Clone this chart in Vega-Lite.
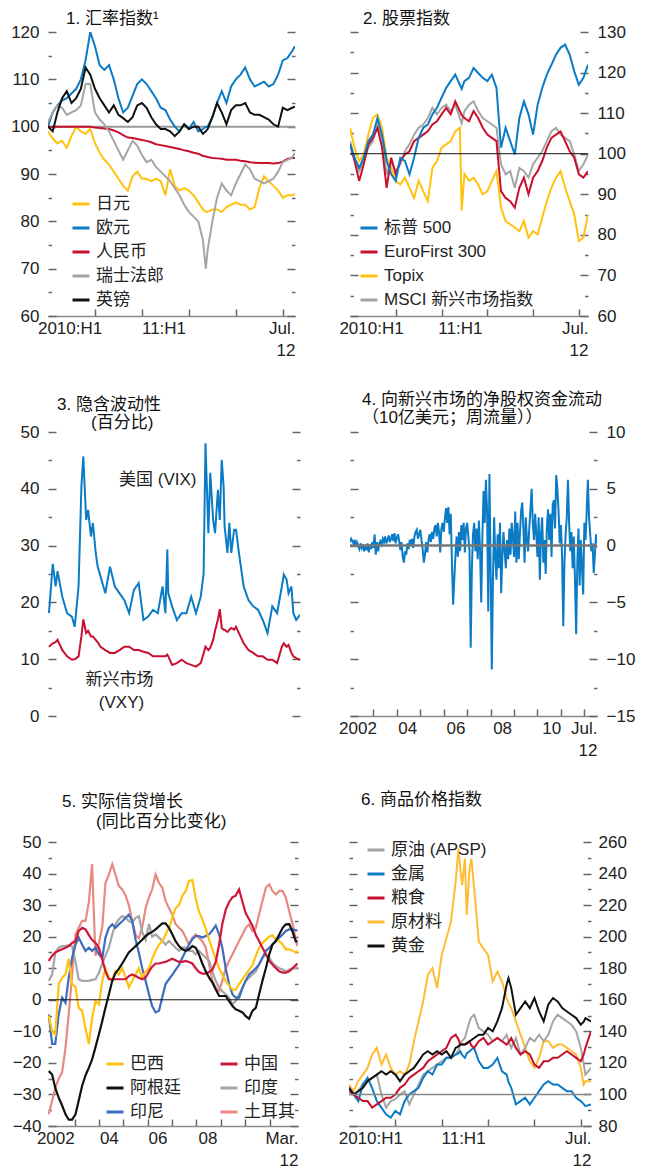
{
"$schema":"https://vega.github.io/schema/vega-lite/v6.json",
"background":"white",
"padding":{"left":10,"top":10,"right":4,"bottom":4},
"config":{
 "font":"Liberation Sans, Noto Sans CJK SC, sans-serif",
 "view":{"stroke":null},
 "axis":{"grid":false,"domain":false,"labelFontSize":17,"labelColor":"#222","labelFont":"Liberation Sans, Noto Sans CJK SC","tickColor":"#666","tickWidth":1.5,"labelOverlap":false,"labelFlush":false},
 "axisX":{"domain":true,"domainColor":"#8a8a8a","domainWidth":1.5,"tickSize":-7,"labelLineHeight":22,"labelPadding":11},
 "legend":{"title":null,"symbolType":"stroke","symbolSize":289,"symbolStrokeWidth":3,"labelFontSize":17,"labelColor":"#222","labelFont":"Liberation Sans, Noto Sans CJK SC","rowPadding":6,"labelOffset":5,"orient":"none"},
 "title":{"fontSize":17,"fontWeight":"normal","anchor":"start","frame":"group","color":"#111","lineHeight":18,"align":"left","font":"Liberation Sans, Noto Sans CJK SC"},
 "text":{"font":"Liberation Sans, Noto Sans CJK SC"}
},
"resolve":{"scale":{"color":"independent"},"legend":{"color":"independent"}},
"columns":1,
"align":"none",
"spacing":{"row":33,"column":0},
"concat":[
{"hconcat":[
{
 "width":247,"height":284,
 "title":{"text":"1. 汇率指数¹","dx":18,"offset":-5},
 "resolve":{"axis":{"y":"independent"}},
 "layer":[
  {"data":{"values":[{"r":100}]},"mark":{"type":"rule","color":"#999","strokeWidth":2},
   "encoding":{"y":{"field":"r","type":"quantitative","scale":{"domain":[60,120],"nice":false,"zero":false},
     "axis":{"orient":"right","title":null,"labels":false,"values":[60,65,70,75,80,85,90,95,100,105,110,115,120],"tickSize":{"condition":{"test":"datum.value % 10 != 0","value":-3.5},"value":-8}}}}},
  {"data":{"values":[
{"t":2010.00,"jpy":99,"eur":100,"rmb":100,"chf":101,"gbp":100},
{"t":2010.05,"jpy":97.5,"eur":103,"rmb":100,"chf":103,"gbp":99},
{"t":2010.10,"jpy":96.5,"eur":104.5,"rmb":100,"chf":104.5,"gbp":103},
{"t":2010.15,"jpy":97,"eur":105.5,"rmb":100,"chf":104,"gbp":106},
{"t":2010.20,"jpy":95.5,"eur":106,"rmb":100,"chf":102.5,"gbp":107.5},
{"t":2010.25,"jpy":98,"eur":107,"rmb":100,"chf":103,"gbp":105},
{"t":2010.30,"jpy":100,"eur":108,"rmb":100,"chf":103.5,"gbp":106},
{"t":2010.35,"jpy":99,"eur":110,"rmb":100,"chf":104.5,"gbp":108},
{"t":2010.40,"jpy":98.5,"eur":114,"rmb":100,"chf":109,"gbp":112.5},
{"t":2010.45,"jpy":99.5,"eur":120,"rmb":100,"chf":109,"gbp":111},
{"t":2010.50,"jpy":96.5,"eur":117,"rmb":99.8,"chf":103,"gbp":108},
{"t":2010.55,"jpy":94.5,"eur":113,"rmb":99.7,"chf":101.5,"gbp":106},
{"t":2010.60,"jpy":93,"eur":112,"rmb":99.6,"chf":100.5,"gbp":104.5},
{"t":2010.65,"jpy":92,"eur":113,"rmb":99.5,"chf":99,"gbp":103},
{"t":2010.70,"jpy":90.5,"eur":110,"rmb":99.2,"chf":97,"gbp":104.5},
{"t":2010.75,"jpy":89,"eur":106,"rmb":98.8,"chf":95,"gbp":102.5},
{"t":2010.80,"jpy":87.5,"eur":103,"rmb":98.2,"chf":93,"gbp":101.8},
{"t":2010.85,"jpy":86.5,"eur":104,"rmb":97.7,"chf":95,"gbp":101},
{"t":2010.90,"jpy":89.5,"eur":106.5,"rmb":97.6,"chf":97,"gbp":102},
{"t":2010.95,"jpy":90.5,"eur":109,"rmb":97.4,"chf":96,"gbp":104.5},
{"t":2011.00,"jpy":89,"eur":110,"rmb":97.2,"chf":94,"gbp":105},
{"t":2011.05,"jpy":89,"eur":109,"rmb":97,"chf":92.5,"gbp":104},
{"t":2011.10,"jpy":88.5,"eur":107.5,"rmb":96.7,"chf":93,"gbp":102},
{"t":2011.15,"jpy":89,"eur":106,"rmb":96.3,"chf":91.5,"gbp":100.5},
{"t":2011.20,"jpy":88.5,"eur":104,"rmb":96.1,"chf":90.5,"gbp":99.5},
{"t":2011.25,"jpy":85.5,"eur":103.5,"rmb":95.9,"chf":89.5,"gbp":99.5},
{"t":2011.30,"jpy":91,"eur":101.5,"rmb":95.7,"chf":88.5,"gbp":99},
{"t":2011.35,"jpy":87.5,"eur":100,"rmb":95.5,"chf":87,"gbp":98},
{"t":2011.40,"jpy":86.5,"eur":99,"rmb":95.3,"chf":85.5,"gbp":99},
{"t":2011.45,"jpy":87,"eur":100.5,"rmb":95,"chf":83.5,"gbp":100.5},
{"t":2011.50,"jpy":86.5,"eur":99.5,"rmb":94.8,"chf":82,"gbp":99.5},
{"t":2011.55,"jpy":85.5,"eur":101,"rmb":94.5,"chf":81,"gbp":100},
{"t":2011.60,"jpy":84,"eur":99,"rmb":94.3,"chf":80,"gbp":100},
{"t":2011.65,"jpy":82.5,"eur":99.5,"rmb":93.8,"chf":76,"gbp":98.5},
{"t":2011.68,"jpy":82,"eur":100,"rmb":93.7,"chf":70,"gbp":99},
{"t":2011.70,"jpy":82,"eur":100,"rmb":93.6,"chf":74,"gbp":99.5},
{"t":2011.75,"jpy":82.5,"eur":102,"rmb":93.4,"chf":80,"gbp":102},
{"t":2011.80,"jpy":82.5,"eur":105,"rmb":93.3,"chf":85,"gbp":105},
{"t":2011.85,"jpy":82,"eur":107.5,"rmb":93.2,"chf":88,"gbp":103},
{"t":2011.90,"jpy":83,"eur":105,"rmb":93,"chf":86.5,"gbp":100.5},
{"t":2011.95,"jpy":83.5,"eur":108.5,"rmb":93,"chf":85.5,"gbp":103.5},
{"t":2012.00,"jpy":84,"eur":110,"rmb":93,"chf":88,"gbp":104.5},
{"t":2012.05,"jpy":83.5,"eur":111,"rmb":92.8,"chf":90,"gbp":104.5},
{"t":2012.10,"jpy":83.5,"eur":112.5,"rmb":92.7,"chf":92,"gbp":105},
{"t":2012.15,"jpy":82.5,"eur":110,"rmb":92.5,"chf":91,"gbp":103},
{"t":2012.20,"jpy":83,"eur":108.5,"rmb":92.4,"chf":89,"gbp":102.5},
{"t":2012.25,"jpy":87,"eur":109,"rmb":92.3,"chf":88.5,"gbp":102.5},
{"t":2012.30,"jpy":89.5,"eur":109.5,"rmb":92.3,"chf":88,"gbp":102},
{"t":2012.35,"jpy":88.5,"eur":108.5,"rmb":92.3,"chf":88.5,"gbp":101.5},
{"t":2012.40,"jpy":87.5,"eur":109,"rmb":92.2,"chf":89,"gbp":100.5},
{"t":2012.45,"jpy":86.5,"eur":111,"rmb":92.3,"chf":90.5,"gbp":100},
{"t":2012.50,"jpy":85,"eur":114,"rmb":92.6,"chf":92.5,"gbp":104},
{"t":2012.55,"jpy":85.5,"eur":114.5,"rmb":93.2,"chf":93,"gbp":103.5},
{"t":2012.60,"jpy":85.5,"eur":116,"rmb":93.4,"chf":93.5,"gbp":104},
{"t":2012.63,"jpy":85.8,"eur":117,"rmb":93.4,"chf":94.5,"gbp":104.2}
  ]},
  "transform":[{"fold":["jpy","eur","rmb","chf","gbp"],"as":["s","v"]}],
  "mark":{"type":"line","strokeWidth":2,"clip":true},
  "encoding":{
   "x":{"field":"t","type":"quantitative","scale":{"domain":[2010,2012.63],"nice":false,"zero":false},
     "axis":{"title":null,"values":[2010.23,2010.5,2011,2011.23,2011.5,2012,2012.5,2012.63],
       "labelExpr":"datum.value==2010.23?'2010:H1':datum.value==2011.23?'11:H1':datum.value==2012.63?['Jul.','12']:''",
       "tickOpacity":{"condition":{"test":"datum.value==2010.23||datum.value==2011.23||datum.value==2012.63","value":0},"value":1},
       "labelAlign":{"condition":{"test":"datum.value==2012.63","value":"right"},"value":"center"}}},
   "y":{"field":"v","type":"quantitative","scale":{"domain":[60,120],"nice":false,"zero":false},
     "axis":{"orient":"left","title":null,"values":[60,65,70,75,80,85,90,95,100,105,110,115,120],"labelExpr":"datum.value % 10 == 0 ? datum.label : ''","tickSize":{"condition":{"test":"datum.value % 10 != 0","value":-3.5},"value":-8},"labelPadding":17}},
   "color":{"field":"s","type":"nominal","scale":{"domain":["jpy","eur","rmb","chf","gbp"],"range":["#ffc20e","#0a7bc4","#c8102e","#a5a5a5","#111111"]},
     "legend":{"orient":"none","legendX":23,"legendY":162,"labelExpr":"datum.label=='jpy'?'日元':datum.label=='eur'?'欧元':datum.label=='rmb'?'人民币':datum.label=='chf'?'瑞士法郎':'英镑'"}}
  }}
 ]
},
{
 "width":238,"height":284,
 "title":{"text":"2. 股票指数","dx":13,"offset":-5},
 "resolve":{"axis":{"y":"independent"}},
 "layer":[
  {"data":{"values":[
{"t":2010.00,"spx":102.3,"euro":102.3,"topix":106.4,"msci":103.1},
{"t":2010.05,"spx":99.0,"euro":98.2,"topix":101.5,"msci":99.0},
{"t":2010.10,"spx":96.5,"euro":93.3,"topix":98.2,"msci":95.7},
{"t":2010.15,"spx":99.0,"euro":97.4,"topix":99.8,"msci":98.2},
{"t":2010.20,"spx":103.1,"euro":102.3,"topix":104.7,"msci":101.5},
{"t":2010.25,"spx":104.7,"euro":103.9,"topix":108.8,"msci":103.1},
{"t":2010.30,"spx":108.8,"euro":106.4,"topix":109.7,"msci":107.2},
{"t":2010.35,"spx":104.7,"euro":101.5,"topix":106.4,"msci":103.9},
{"t":2010.40,"spx":98.2,"euro":91.6,"topix":99.0,"msci":94.9},
{"t":2010.45,"spx":94.9,"euro":99.0,"topix":96.5,"msci":98.2},
{"t":2010.50,"spx":93.3,"euro":94.9,"topix":93.3,"msci":95.7},
{"t":2010.55,"spx":99.0,"euro":98.2,"topix":92.4,"msci":97.4},
{"t":2010.60,"spx":98.2,"euro":99.8,"topix":94.1,"msci":100.6},
{"t":2010.65,"spx":94.9,"euro":100.6,"topix":91.6,"msci":102.3},
{"t":2010.70,"spx":99.0,"euro":103.1,"topix":89.1,"msci":104.7},
{"t":2010.75,"spx":103.9,"euro":103.9,"topix":93.3,"msci":106.4},
{"t":2010.80,"spx":106.4,"euro":104.7,"topix":90.8,"msci":107.2},
{"t":2010.85,"spx":107.2,"euro":105.5,"topix":88.3,"msci":108.8},
{"t":2010.90,"spx":109.7,"euro":107.2,"topix":96.5,"msci":111.3},
{"t":2010.95,"spx":111.3,"euro":108.0,"topix":98.2,"msci":109.7},
{"t":2011.00,"spx":113.8,"euro":109.7,"topix":101.5,"msci":111.3},
{"t":2011.05,"spx":116.2,"euro":111.3,"topix":102.3,"msci":112.1},
{"t":2011.10,"spx":117.9,"euro":109.7,"topix":103.1,"msci":110.5},
{"t":2011.15,"spx":119.5,"euro":112.9,"topix":105.5,"msci":112.1},
{"t":2011.20,"spx":117.0,"euro":110.5,"topix":106.4,"msci":108.8},
{"t":2011.22,"spx":116.0,"euro":109.5,"topix":86.0,"msci":107.5},
{"t":2011.25,"spx":117.9,"euro":108.8,"topix":95.0,"msci":110.5},
{"t":2011.30,"spx":118.7,"euro":108.0,"topix":93.3,"msci":112.1},
{"t":2011.35,"spx":121.1,"euro":110.5,"topix":94.1,"msci":112.9},
{"t":2011.40,"spx":119.9,"euro":108.8,"topix":92.4,"msci":110.5},
{"t":2011.45,"spx":118.7,"euro":106.4,"topix":90.0,"msci":108.8},
{"t":2011.50,"spx":117.9,"euro":104.7,"topix":90.8,"msci":108.0},
{"t":2011.55,"spx":119.5,"euro":103.9,"topix":93.3,"msci":107.2},
{"t":2011.60,"spx":116.2,"euro":103.1,"topix":95.7,"msci":106.4},
{"t":2011.65,"spx":101.5,"euro":90.8,"topix":86.7,"msci":97.4},
{"t":2011.70,"spx":106.4,"euro":89.1,"topix":83.4,"msci":94.9},
{"t":2011.75,"spx":103.1,"euro":88.3,"topix":82.6,"msci":95.7},
{"t":2011.80,"spx":99.8,"euro":86.7,"topix":81.8,"msci":91.6},
{"t":2011.85,"spx":108.8,"euro":91.6,"topix":80.9,"msci":96.5},
{"t":2011.90,"spx":112.9,"euro":94.1,"topix":83.4,"msci":95.7},
{"t":2011.95,"spx":109.7,"euro":90.0,"topix":79.3,"msci":94.1},
{"t":2012.00,"spx":104.7,"euro":94.1,"topix":80.9,"msci":97.4},
{"t":2012.05,"spx":112.1,"euro":95.7,"topix":80.1,"msci":99.0},
{"t":2012.10,"spx":116.2,"euro":98.2,"topix":84.2,"msci":100.6},
{"t":2012.15,"spx":119.5,"euro":101.5,"topix":88.3,"msci":103.1},
{"t":2012.20,"spx":121.9,"euro":103.9,"topix":91.6,"msci":105.5},
{"t":2012.25,"spx":124.4,"euro":104.7,"topix":94.1,"msci":106.4},
{"t":2012.30,"spx":126.1,"euro":105.5,"topix":95.7,"msci":104.7},
{"t":2012.35,"spx":126.9,"euro":103.1,"topix":91.6,"msci":103.9},
{"t":2012.40,"spx":124.4,"euro":100.6,"topix":88.3,"msci":103.1},
{"t":2012.45,"spx":120.3,"euro":99.0,"topix":85.0,"msci":99.8},
{"t":2012.50,"spx":117.0,"euro":94.9,"topix":78.5,"msci":95.7},
{"t":2012.55,"spx":118.7,"euro":94.1,"topix":79.3,"msci":97.4},
{"t":2012.60,"spx":121.9,"euro":95.7,"topix":85.0,"msci":99.8}
  ]},
  "transform":[{"fold":["msci","topix","euro","spx"],"as":["s","v"]}],
  "mark":{"type":"line","strokeWidth":2,"clip":true},
  "encoding":{
   "x":{"field":"t","type":"quantitative","scale":{"domain":[2010,2012.6],"nice":false,"zero":false},
     "axis":{"title":null,"values":[2010.23,2010.5,2011,2011.2,2011.5,2012,2012.5,2012.6],
       "labelExpr":"datum.value==2010.23?'2010:H1':datum.value==2011.2?'11:H1':datum.value==2012.6?['Jul.','12']:''",
       "tickOpacity":{"condition":{"test":"datum.value==2010.23||datum.value==2011.2||datum.value==2012.6","value":0},"value":1},
       "labelAlign":{"condition":{"test":"datum.value==2012.6","value":"right"},"value":"center"}}},
   "y":{"field":"v","type":"quantitative","scale":{"domain":[60,130],"nice":false,"zero":false},
     "axis":{"orient":"left","title":null,"labels":false,"values":[60,65,70,75,80,85,90,95,100,105,110,115,120,125,130],"tickSize":{"condition":{"test":"datum.value % 10 != 0","value":-3.5},"value":-8}}},
   "color":{"field":"s","type":"nominal","scale":{"domain":["spx","euro","topix","msci"],"range":["#0a7bc4","#c8102e","#ffc20e","#a5a5a5"]},
     "legend":{"orient":"none","legendX":9,"legendY":186,"labelExpr":"datum.label=='spx'?'标普 500':datum.label=='euro'?'EuroFirst 300':datum.label=='topix'?'Topix':'MSCI 新兴市场指数'"}}
  }},
  {"data":{"values":[{"r":100}]},"mark":{"type":"rule","color":"#111","strokeWidth":1},
   "encoding":{"y":{"field":"r","type":"quantitative","scale":{"domain":[60,130],"nice":false,"zero":false},
     "axis":{"orient":"right","title":null,"values":[60,65,70,75,80,85,90,95,100,105,110,115,120,125,130],"labelExpr":"datum.value % 10 == 0 ? datum.label : ''","tickSize":{"condition":{"test":"datum.value % 10 != 0","value":-3.5},"value":-8},"labelPadding":17}}}}
 ]
}
],"spacing":42,"resolve":{"scale":{"color":"independent"},"legend":{"color":"independent"}}},
{"hconcat":[
{
 "width":252,"height":284,
 "title":{"text":["3. 隐含波动性","\u200B\u3000\u3000(百分比)"],"dx":9,"offset":-9},
 "resolve":{"axis":{"y":"independent"}},
 "layer":[
  {"data":{"values":[
{"t":2010.01,"vix":18.1,"vxy":12.2},
{"t":2010.05,"vix":26.8,"vxy":12.8},
{"t":2010.08,"vix":22.8,"vxy":13.0},
{"t":2010.10,"vix":25.5,"vxy":13.4},
{"t":2010.15,"vix":21.0,"vxy":11.6},
{"t":2010.20,"vix":18.1,"vxy":10.5},
{"t":2010.25,"vix":17.5,"vxy":9.9},
{"t":2010.28,"vix":15.7,"vxy":10.0},
{"t":2010.32,"vix":22.8,"vxy":10.5},
{"t":2010.35,"vix":40.4,"vxy":14.0},
{"t":2010.37,"vix":45.7,"vxy":17.0},
{"t":2010.40,"vix":34.5,"vxy":14.6},
{"t":2010.42,"vix":36.3,"vxy":15.0},
{"t":2010.45,"vix":31.6,"vxy":14.0},
{"t":2010.47,"vix":34.0,"vxy":14.0},
{"t":2010.50,"vix":28.7,"vxy":13.4},
{"t":2010.52,"vix":26.3,"vxy":13.0},
{"t":2010.55,"vix":24.6,"vxy":12.2},
{"t":2010.60,"vix":21.6,"vxy":11.6},
{"t":2010.65,"vix":26.3,"vxy":11.1},
{"t":2010.70,"vix":22.8,"vxy":11.1},
{"t":2010.75,"vix":21.6,"vxy":11.6},
{"t":2010.80,"vix":20.4,"vxy":12.2},
{"t":2010.85,"vix":18.1,"vxy":12.2},
{"t":2010.90,"vix":22.2,"vxy":11.6},
{"t":2010.95,"vix":23.4,"vxy":11.6},
{"t":2011.00,"vix":16.9,"vxy":11.3},
{"t":2011.05,"vix":17.5,"vxy":11.1},
{"t":2011.10,"vix":18.7,"vxy":10.5},
{"t":2011.15,"vix":18.1,"vxy":10.5},
{"t":2011.20,"vix":22.8,"vxy":10.5},
{"t":2011.23,"vix":18.1,"vxy":10.5},
{"t":2011.25,"vix":29.3,"vxy":10.8},
{"t":2011.26,"vix":21.6,"vxy":10.5},
{"t":2011.30,"vix":19.3,"vxy":9.0},
{"t":2011.35,"vix":16.9,"vxy":9.3},
{"t":2011.40,"vix":18.1,"vxy":9.9},
{"t":2011.45,"vix":18.1,"vxy":9.3},
{"t":2011.50,"vix":21.0,"vxy":9.0},
{"t":2011.55,"vix":18.1,"vxy":8.7},
{"t":2011.60,"vix":21.0,"vxy":9.3},
{"t":2011.63,"vix":25.0,"vxy":11.0},
{"t":2011.65,"vix":48.0,"vxy":12.2},
{"t":2011.68,"vix":32.2,"vxy":11.6},
{"t":2011.70,"vix":42.8,"vxy":12.0},
{"t":2011.73,"vix":34.5,"vxy":13.4},
{"t":2011.75,"vix":32.2,"vxy":15.0},
{"t":2011.78,"vix":39.8,"vxy":17.0},
{"t":2011.80,"vix":34.5,"vxy":18.8},
{"t":2011.82,"vix":45.1,"vxy":15.5},
{"t":2011.84,"vix":40.4,"vxy":15.2},
{"t":2011.85,"vix":33.4,"vxy":15.2},
{"t":2011.88,"vix":28.7,"vxy":14.8},
{"t":2011.90,"vix":34.0,"vxy":15.2},
{"t":2011.92,"vix":28.7,"vxy":15.5},
{"t":2011.95,"vix":32.8,"vxy":15.2},
{"t":2011.97,"vix":32.8,"vxy":15.7},
{"t":2012.00,"vix":28.7,"vxy":14.6},
{"t":2012.05,"vix":22.8,"vxy":12.8},
{"t":2012.10,"vix":20.4,"vxy":11.6},
{"t":2012.15,"vix":19.3,"vxy":11.1},
{"t":2012.20,"vix":18.7,"vxy":10.5},
{"t":2012.25,"vix":16.9,"vxy":10.5},
{"t":2012.30,"vix":14.6,"vxy":9.9},
{"t":2012.35,"vix":19.3,"vxy":9.9},
{"t":2012.40,"vix":18.1,"vxy":9.3},
{"t":2012.45,"vix":22.8,"vxy":12.2},
{"t":2012.47,"vix":24.9,"vxy":12.8},
{"t":2012.50,"vix":24.0,"vxy":12.2},
{"t":2012.52,"vix":21.6,"vxy":12.5},
{"t":2012.55,"vix":22.8,"vxy":11.1},
{"t":2012.57,"vix":18.1,"vxy":10.5},
{"t":2012.60,"vix":16.9,"vxy":10.2},
{"t":2012.64,"vix":17.8,"vxy":9.9}
  ]},
  "transform":[{"fold":["vix","vxy"],"as":["s","v"]}],
  "mark":{"type":"line","strokeWidth":2,"clip":true},
  "encoding":{
   "x":{"field":"t","type":"quantitative","scale":{"domain":[2010,2012.64],"nice":false,"zero":false},
     "axis":{"title":null,"values":[2010.23,2010.5,2011,2011.21,2011.5,2012,2012.5,2012.64],
       "labelExpr":"datum.value==2010.23?'2010:H1':datum.value==2011.21?'11:H1':datum.value==2012.64?['Jul.','12']:''",
       "tickOpacity":{"condition":{"test":"datum.value==2010.23||datum.value==2011.21||datum.value==2012.64","value":0},"value":1},
       "labelAlign":{"condition":{"test":"datum.value==2012.64","value":"right"},"value":"center"}}},
   "y":{"field":"v","type":"quantitative","scale":{"domain":[0,50],"nice":false,"zero":false},
     "axis":{"orient":"left","title":null,"values":[0,5,10,15,20,25,30,35,40,45,50],"labelExpr":"datum.value % 10 == 0 ? datum.label : ''","tickSize":{"condition":{"test":"datum.value % 10 != 0","value":-3.5},"value":-8},"labelPadding":17}},
   "color":{"field":"s","type":"nominal","scale":{"domain":["vix","vxy"],"range":["#0a7bc4","#c8102e"]},"legend":null}
  }},
  {"data":{"values":[{"r":0}]},"mark":{"type":"rule","opacity":0},
   "encoding":{"y":{"field":"r","type":"quantitative","scale":{"domain":[0,50],"nice":false,"zero":false},
     "axis":{"orient":"right","title":null,"labels":false,"values":[0,5,10,15,20,25,30,35,40,45,50],"tickSize":{"condition":{"test":"datum.value % 10 != 0","value":-3.5},"value":-8}}}}},
  {"data":{"values":[{"t":2011.15,"v":41.5,"txt":"美国 (VIX)"},{"t":2010.75,"v":6.3,"txt":"新兴市场"},{"t":2010.77,"v":2.3,"txt":"(VXY)"}]},
   "mark":{"type":"text","fontSize":17,"color":"#222"},
   "encoding":{"x":{"field":"t","type":"quantitative","scale":{"domain":[2010,2012.64],"nice":false,"zero":false},"axis":null},
     "y":{"field":"v","type":"quantitative","scale":{"domain":[0,50],"nice":false,"zero":false},"axis":null},
     "text":{"field":"txt"}}}
 ]
},
{
 "width":247,"height":284,
 "title":{"text":["4. 向新兴市场的净股权资金流动","（10亿美元；周流量））"],"dx":12,"offset":-4},
 "resolve":{"axis":{"y":"independent"}},
 "layer":[
  {"data":{"values":[
{"t":2002.00,"v":0.3},{"t":2002.05,"v":0.6},{"t":2002.10,"v":0.4},{"t":2002.15,"v":0.2},{"t":2002.20,"v":0.5},{"t":2002.25,"v":-0.1},{"t":2002.30,"v":0.3},{"t":2002.35,"v":0.0},{"t":2002.40,"v":-0.3},{"t":2002.45,"v":0.2},
{"t":2002.50,"v":-0.2},{"t":2002.55,"v":0.1},{"t":2002.60,"v":-0.5},{"t":2002.65,"v":0.0},{"t":2002.70,"v":-0.4},{"t":2002.75,"v":0.2},{"t":2002.80,"v":-0.6},{"t":2002.85,"v":0.1},{"t":2002.90,"v":-0.3},{"t":2002.95,"v":0.3},
{"t":2003.00,"v":-0.2},{"t":2003.05,"v":1.0},{"t":2003.10,"v":-0.8},{"t":2003.15,"v":0.3},{"t":2003.20,"v":-0.5},{"t":2003.25,"v":0.2},{"t":2003.30,"v":0.4},{"t":2003.35,"v":0.1},{"t":2003.40,"v":0.6},{"t":2003.45,"v":0.3},
{"t":2003.50,"v":0.8},{"t":2003.55,"v":0.2},{"t":2003.60,"v":0.5},{"t":2003.65,"v":0.9},{"t":2003.70,"v":0.3},{"t":2003.75,"v":0.6},{"t":2003.80,"v":1.0},{"t":2003.85,"v":0.4},{"t":2003.90,"v":1.1},{"t":2003.95,"v":0.2},
{"t":2004.00,"v":0.7},{"t":2004.05,"v":1.0},{"t":2004.10,"v":0.4},{"t":2004.15,"v":-0.4},{"t":2004.20,"v":0.3},{"t":2004.25,"v":-1.0},{"t":2004.30,"v":-1.5},{"t":2004.35,"v":-0.5},{"t":2004.40,"v":-0.8},{"t":2004.45,"v":0.2},
{"t":2004.50,"v":-0.3},{"t":2004.55,"v":0.5},{"t":2004.60,"v":0.2},{"t":2004.65,"v":0.6},{"t":2004.70,"v":-0.2},{"t":2004.75,"v":0.8},{"t":2004.80,"v":1.2},{"t":2004.85,"v":1.4},{"t":2004.90,"v":0.6},{"t":2004.95,"v":1.0},
{"t":2005.00,"v":1.4},{"t":2005.05,"v":0.5},{"t":2005.10,"v":-0.3},{"t":2005.15,"v":-1.5},{"t":2005.20,"v":-0.8},{"t":2005.25,"v":0.3},{"t":2005.30,"v":-0.6},{"t":2005.35,"v":0.5},{"t":2005.40,"v":1.0},{"t":2005.45,"v":0.3},
{"t":2005.50,"v":1.2},{"t":2005.55,"v":0.6},{"t":2005.60,"v":1.5},{"t":2005.65,"v":1.8},{"t":2005.70,"v":0.8},{"t":2005.75,"v":2.0},{"t":2005.80,"v":1.2},{"t":2005.85,"v":-0.6},{"t":2005.90,"v":1.5},{"t":2005.95,"v":2.0},
{"t":2006.00,"v":1.2},{"t":2006.05,"v":2.4},{"t":2006.10,"v":3.3},{"t":2006.15,"v":2.0},{"t":2006.20,"v":3.4},{"t":2006.25,"v":1.0},{"t":2006.30,"v":2.8},{"t":2006.35,"v":-1.5},{"t":2006.40,"v":-5.2},{"t":2006.45,"v":-3.0},
{"t":2006.50,"v":-0.8},{"t":2006.55,"v":0.8},{"t":2006.60,"v":-1.0},{"t":2006.65,"v":1.2},{"t":2006.70,"v":-0.5},{"t":2006.75,"v":1.8},{"t":2006.80,"v":0.5},{"t":2006.85,"v":2.0},{"t":2006.90,"v":-0.6},{"t":2006.95,"v":1.5},
{"t":2007.00,"v":2.0},{"t":2007.05,"v":0.8},{"t":2007.10,"v":-0.5},{"t":2007.15,"v":-9.0},{"t":2007.20,"v":-2.0},{"t":2007.25,"v":1.0},{"t":2007.30,"v":2.0},{"t":2007.35,"v":-0.5},{"t":2007.40,"v":1.5},{"t":2007.45,"v":-1.2},
{"t":2007.50,"v":2.2},{"t":2007.55,"v":-0.5},{"t":2007.60,"v":-5.0},{"t":2007.65,"v":1.0},{"t":2007.70,"v":4.8},{"t":2007.75,"v":2.0},{"t":2007.80,"v":5.8},{"t":2007.85,"v":3.0},{"t":2007.90,"v":-5.8},{"t":2007.95,"v":6.3},
{"t":2008.00,"v":-2.0},{"t":2008.05,"v":-10.9},{"t":2008.10,"v":-3.0},{"t":2008.15,"v":2.5},{"t":2008.20,"v":-1.0},{"t":2008.25,"v":-3.0},{"t":2008.30,"v":1.0},{"t":2008.35,"v":-2.0},{"t":2008.40,"v":2.0},{"t":2008.45,"v":-4.2},
{"t":2008.50,"v":-1.0},{"t":2008.55,"v":1.2},{"t":2008.60,"v":-0.5},{"t":2008.65,"v":-2.0},{"t":2008.70,"v":0.5},{"t":2008.75,"v":-1.2},{"t":2008.80,"v":1.5},{"t":2008.85,"v":-0.8},{"t":2008.90,"v":2.0},{"t":2008.95,"v":0.8},
{"t":2009.00,"v":-1.0},{"t":2009.05,"v":3.0},{"t":2009.10,"v":-1.5},{"t":2009.15,"v":2.0},{"t":2009.20,"v":-1.2},{"t":2009.25,"v":1.0},{"t":2009.30,"v":3.0},{"t":2009.35,"v":3.8},{"t":2009.40,"v":1.5},{"t":2009.45,"v":-1.5},
{"t":2009.50,"v":2.5},{"t":2009.55,"v":0.5},{"t":2009.60,"v":-0.5},{"t":2009.65,"v":1.5},{"t":2009.70,"v":3.2},{"t":2009.75,"v":5.0},{"t":2009.80,"v":2.0},{"t":2009.85,"v":0.5},{"t":2009.90,"v":2.8},{"t":2009.95,"v":1.0},
{"t":2010.00,"v":-1.0},{"t":2010.05,"v":2.5},{"t":2010.10,"v":-3.0},{"t":2010.15,"v":1.0},{"t":2010.20,"v":2.5},{"t":2010.25,"v":-1.5},{"t":2010.30,"v":0.5},{"t":2010.35,"v":-2.5},{"t":2010.40,"v":1.5},{"t":2010.45,"v":3.2},
{"t":2010.50,"v":0.5},{"t":2010.55,"v":2.8},{"t":2010.60,"v":-1.0},{"t":2010.65,"v":3.6},{"t":2010.70,"v":4.0},{"t":2010.75,"v":1.5},{"t":2010.80,"v":6.2},{"t":2010.85,"v":5.0},{"t":2010.90,"v":3.0},{"t":2010.95,"v":0.2},
{"t":2011.00,"v":1.8},{"t":2011.05,"v":-1.0},{"t":2011.10,"v":-7.1},{"t":2011.15,"v":-1.5},{"t":2011.20,"v":1.0},{"t":2011.25,"v":2.5},{"t":2011.30,"v":5.8},{"t":2011.35,"v":2.0},{"t":2011.40,"v":-0.5},{"t":2011.45,"v":1.2},
{"t":2011.50,"v":-2.0},{"t":2011.55,"v":0.8},{"t":2011.60,"v":-3.0},{"t":2011.65,"v":-7.8},{"t":2011.70,"v":-1.5},{"t":2011.75,"v":1.5},{"t":2011.80,"v":-3.5},{"t":2011.85,"v":0.5},{"t":2011.90,"v":-2.0},{"t":2011.95,"v":-4.3},
{"t":2012.00,"v":2.0},{"t":2012.05,"v":0.5},{"t":2012.10,"v":3.0},{"t":2012.15,"v":5.8},{"t":2012.20,"v":2.5},{"t":2012.25,"v":1.0},{"t":2012.30,"v":-0.5},{"t":2012.35,"v":0.2},{"t":2012.40,"v":-2.4},{"t":2012.45,"v":-0.8},
{"t":2012.50,"v":1.0},{"t":2012.54,"v":0.2}
  ]},
  "mark":{"type":"line","strokeWidth":2,"color":"#0a7bc4","clip":true},
  "encoding":{
   "x":{"field":"t","type":"quantitative","scale":{"domain":[2002,2012.54],"nice":false,"zero":false},
     "axis":{"title":null,"values":[2002.32,2003,2004,2004.44,2005,2006,2006.5,2007,2008,2008.49,2009,2010,2010.59,2011,2012,2012.54],
       "labelExpr":"datum.value==2002.32?'2002':datum.value==2004.44?'04':datum.value==2006.5?'06':datum.value==2008.49?'08':datum.value==2010.59?'10':datum.value==2012.54?['Jul.','12']:''",
       "tickOpacity":{"condition":{"test":"datum.value % 1 != 0","value":0},"value":1},
       "labelAlign":{"condition":{"test":"datum.value==2012.54","value":"right"},"value":"center"}}},
   "y":{"field":"v","type":"quantitative","scale":{"domain":[-15,10],"nice":false,"zero":false},
     "axis":{"orient":"left","title":null,"labels":false,"values":[-15,-12.5,-10,-7.5,-5,-2.5,0,2.5,5,7.5,10],"tickSize":{"condition":{"test":"datum.value % 5 != 0","value":-3.5},"value":-8}}}
  }},
  {"data":{"values":[{"r":0}]},"mark":{"type":"rule","color":"#777","strokeWidth":2.5},
   "encoding":{"y":{"field":"r","type":"quantitative","scale":{"domain":[-15,10],"nice":false,"zero":false},
     "axis":{"orient":"right","title":null,"values":[-15,-12.5,-10,-7.5,-5,-2.5,0,2.5,5,7.5,10],"labelExpr":"datum.value % 5 == 0 ? datum.label : ''","tickSize":{"condition":{"test":"datum.value % 5 != 0","value":-3.5},"value":-8},"labelPadding":17}}}}
 ]
}
],"spacing":37,"resolve":{"scale":{"color":"independent"},"legend":{"color":"independent"}}},
{"hconcat":[
{
 "width":250,"height":284,
 "title":{"text":["5. 实际信贷增长","\u200B\u3000\u3000(同比百分比变化)"],"dx":14,"offset":2,"lineHeight":20},
 "resolve":{"axis":{"y":"independent"}},
 "layer":[
  {"data":{"values":[
{"t":2001.93,"br":-5,"cn":12.3,"ar":-22.6,"ind":6,"idn":-4.6,"tr":-36.3},
{"t":2002.07,"br":-10,"cn":14,"ar":-23.7,"ind":8,"idn":-14,"tr":-32},
{"t":2002.20,"br":-11,"cn":15,"ar":-28,"ind":15,"idn":-14,"tr":-28},
{"t":2002.34,"br":5,"cn":15.5,"ar":-31,"ind":16.5,"idn":-4.6,"tr":-25},
{"t":2002.48,"br":7,"cn":16,"ar":-33.5,"ind":17,"idn":0.7,"tr":-23},
{"t":2002.62,"br":8,"cn":16.5,"ar":-36.3,"ind":17,"idn":-1,"tr":-15.2},
{"t":2002.75,"br":13,"cn":17,"ar":-38,"ind":17.3,"idn":7,"tr":-4.6},
{"t":2002.89,"br":5,"cn":18,"ar":-38,"ind":17,"idn":13.3,"tr":8},
{"t":2003.03,"br":4,"cn":18.6,"ar":-36.3,"ind":12,"idn":17.5,"tr":20.7},
{"t":2003.16,"br":-2.5,"cn":21.8,"ar":-32,"ind":6.5,"idn":19.7,"tr":22.8},
{"t":2003.30,"br":-3.5,"cn":22.8,"ar":-27.3,"ind":6,"idn":17.5,"tr":25},
{"t":2003.44,"br":-9,"cn":22.3,"ar":-24,"ind":6,"idn":15.5,"tr":25},
{"t":2003.58,"br":-14,"cn":20.5,"ar":-21.5,"ind":6,"idn":16.5,"tr":31},
{"t":2003.71,"br":-6,"cn":19,"ar":-19,"ind":6.3,"idn":15.5,"tr":43},
{"t":2003.85,"br":-0.4,"cn":18,"ar":-15,"ind":6.5,"idn":16.5,"tr":14},
{"t":2003.99,"br":-1.5,"cn":16.5,"ar":-11,"ind":8.5,"idn":14.4,"tr":18},
{"t":2004.13,"br":6,"cn":12.8,"ar":-6.7,"ind":11.5,"idn":13.3,"tr":23},
{"t":2004.26,"br":10,"cn":9,"ar":-2.5,"ind":14,"idn":19.7,"tr":37},
{"t":2004.40,"br":7,"cn":6.5,"ar":1.7,"ind":16.5,"idn":22.8,"tr":39.7},
{"t":2004.54,"br":6,"cn":6.5,"ar":6,"ind":20.7,"idn":23.9,"tr":43},
{"t":2004.67,"br":9,"cn":6.5,"ar":8.5,"ind":23.9,"idn":22.8,"tr":39.7},
{"t":2004.81,"br":8,"cn":6.5,"ar":9.8,"ind":25.5,"idn":23.9,"tr":36},
{"t":2004.95,"br":10,"cn":6.5,"ar":11.5,"ind":26.5,"idn":24.9,"tr":35},
{"t":2005.09,"br":7,"cn":6.5,"ar":13.3,"ind":26,"idn":26,"tr":33},
{"t":2005.22,"br":4,"cn":7.5,"ar":15,"ind":24.9,"idn":27,"tr":30},
{"t":2005.36,"br":6,"cn":8,"ar":16,"ind":24.4,"idn":24.9,"tr":25},
{"t":2005.50,"br":8,"cn":7.5,"ar":17,"ind":26,"idn":19,"tr":20.5},
{"t":2005.63,"br":10,"cn":7,"ar":18,"ind":26.5,"idn":15,"tr":19.5},
{"t":2005.77,"br":7,"cn":6.5,"ar":19,"ind":21.5,"idn":10,"tr":23},
{"t":2005.91,"br":9,"cn":7,"ar":20.2,"ind":19,"idn":6,"tr":29},
{"t":2006.05,"br":10,"cn":9,"ar":21,"ind":24,"idn":1.7,"tr":32.5},
{"t":2006.18,"br":13,"cn":10.5,"ar":21.5,"ind":20,"idn":-2,"tr":35},
{"t":2006.32,"br":15.5,"cn":11.5,"ar":22.3,"ind":20.7,"idn":-4,"tr":39.7},
{"t":2006.46,"br":17.5,"cn":11.5,"ar":23.3,"ind":19.7,"idn":-3.5,"tr":37},
{"t":2006.60,"br":18.6,"cn":11.8,"ar":24.2,"ind":18.6,"idn":1,"tr":35.5},
{"t":2006.73,"br":20.7,"cn":12,"ar":24.2,"ind":17.5,"idn":5,"tr":31.3},
{"t":2006.87,"br":22.8,"cn":12.5,"ar":22.8,"ind":18.6,"idn":6.5,"tr":29},
{"t":2007.01,"br":26,"cn":13,"ar":20.7,"ind":17.5,"idn":8,"tr":27},
{"t":2007.14,"br":29,"cn":12.5,"ar":18.6,"ind":16.5,"idn":9.5,"tr":24},
{"t":2007.28,"br":30,"cn":12,"ar":17,"ind":15.5,"idn":11,"tr":22.8},
{"t":2007.42,"br":33,"cn":12,"ar":16,"ind":16.5,"idn":13.3,"tr":21.8},
{"t":2007.56,"br":34.5,"cn":12.3,"ar":15.5,"ind":16.5,"idn":15.5,"tr":19.7},
{"t":2007.69,"br":37.6,"cn":12,"ar":16,"ind":15.5,"idn":17.5,"tr":17.5},
{"t":2007.83,"br":38,"cn":11.5,"ar":17,"ind":15.5,"idn":19.2,"tr":19.7},
{"t":2007.97,"br":32,"cn":10,"ar":16.5,"ind":14.4,"idn":20.2,"tr":20.7},
{"t":2008.10,"br":28,"cn":8.8,"ar":14.4,"ind":15.5,"idn":20.2,"tr":19.7},
{"t":2008.24,"br":25.5,"cn":8.3,"ar":11.5,"ind":14.4,"idn":19.7,"tr":18.6},
{"t":2008.38,"br":22.5,"cn":8.3,"ar":9,"ind":13.3,"idn":20.2,"tr":16.5},
{"t":2008.52,"br":19,"cn":8.8,"ar":7,"ind":12.3,"idn":20.7,"tr":11.2},
{"t":2008.65,"br":16,"cn":9.5,"ar":5.5,"ind":9,"idn":22,"tr":6},
{"t":2008.79,"br":13,"cn":12,"ar":3.3,"ind":6,"idn":23.5,"tr":3.8},
{"t":2008.93,"br":10,"cn":17.5,"ar":1.2,"ind":3.8,"idn":20.7,"tr":2.7},
{"t":2009.06,"br":8,"cn":24,"ar":1.2,"ind":2.7,"idn":16.5,"tr":6},
{"t":2009.20,"br":6,"cn":28.5,"ar":1.2,"ind":1.7,"idn":10,"tr":10},
{"t":2009.34,"br":4.5,"cn":31,"ar":-0.4,"ind":0.7,"idn":4.9,"tr":12.3},
{"t":2009.48,"br":3.2,"cn":32.5,"ar":-2,"ind":-1.4,"idn":1.7,"tr":14.4},
{"t":2009.61,"br":3.2,"cn":33,"ar":-3,"ind":-0.4,"idn":0.7,"tr":16.5},
{"t":2009.75,"br":5,"cn":35,"ar":-3.5,"ind":1.7,"idn":0.7,"tr":18.6},
{"t":2009.89,"br":6.5,"cn":31,"ar":-4,"ind":3.8,"idn":3.8,"tr":20.7},
{"t":2010.02,"br":8,"cn":27.5,"ar":-5.2,"ind":6,"idn":6,"tr":22.8},
{"t":2010.16,"br":9.5,"cn":25.5,"ar":-6,"ind":7,"idn":8,"tr":23.9},
{"t":2010.30,"br":11,"cn":23.5,"ar":-3.5,"ind":8,"idn":9,"tr":21.8},
{"t":2010.44,"br":14,"cn":20.5,"ar":-2.5,"ind":9,"idn":10,"tr":22.8},
{"t":2010.57,"br":16.5,"cn":18.6,"ar":1.7,"ind":11.2,"idn":11.2,"tr":27},
{"t":2010.71,"br":18,"cn":16.5,"ar":6,"ind":13.3,"idn":13.3,"tr":31.3},
{"t":2010.85,"br":19,"cn":14.4,"ar":10,"ind":14.4,"idn":15.5,"tr":35.5},
{"t":2010.99,"br":20,"cn":12.3,"ar":14.4,"ind":13.3,"idn":16.5,"tr":36.6},
{"t":2011.12,"br":20.5,"cn":11.2,"ar":17.5,"ind":11.7,"idn":17.5,"tr":34.5},
{"t":2011.26,"br":19,"cn":10,"ar":18.6,"ind":10.7,"idn":18.6,"tr":33.4},
{"t":2011.40,"br":18.6,"cn":9,"ar":20.7,"ind":10,"idn":19.7,"tr":34.5},
{"t":2011.54,"br":17.5,"cn":8.6,"ar":22.8,"ind":9.6,"idn":20.7,"tr":34.5},
{"t":2011.67,"br":16,"cn":8.6,"ar":23.9,"ind":9,"idn":21.8,"tr":32.4},
{"t":2011.81,"br":16,"cn":9,"ar":24,"ind":9.6,"idn":22.3,"tr":28},
{"t":2011.95,"br":15.5,"cn":10,"ar":21.5,"ind":10,"idn":22.3,"tr":23.9},
{"t":2012.08,"br":15,"cn":11,"ar":18.5,"ind":10,"idn":22,"tr":19},
{"t":2012.15,"br":15.5,"cn":11.5,"ar":18.5,"ind":10.5,"idn":22,"tr":17}
  ]},
  "transform":[{"fold":["tr","ind","idn","br","cn","ar"],"as":["s","v"]}],
  "mark":{"type":"line","strokeWidth":2.2,"clip":true},
  "encoding":{
   "x":{"field":"t","type":"quantitative","scale":{"domain":[2001.9,2012.17],"nice":false,"zero":false},
     "axis":{"title":null,"values":[2002.2,2003,2004,2004.4,2005,2006,2006.4,2007,2008,2008.45,2009,2010,2011,2012.17],
       "labelExpr":"datum.value==2002.2?'2002':datum.value==2004.4?'04':datum.value==2006.4?'06':datum.value==2008.45?'08':datum.value==2012.17?['Mar.','12']:''",
       "tickOpacity":{"condition":{"test":"datum.value % 1 != 0","value":0},"value":1},
       "labelAlign":{"condition":{"test":"datum.value==2012.17","value":"right"},"value":"center"}}},
   "y":{"field":"v","type":"quantitative","scale":{"domain":[-40,50],"nice":false,"zero":false},
     "axis":{"orient":"left","title":null,"values":[-40,-35,-30,-25,-20,-15,-10,-5,0,5,10,15,20,25,30,35,40,45,50],"labelExpr":"datum.value % 10 == 0 ? datum.label : ''","tickSize":{"condition":{"test":"datum.value % 10 != 0","value":-3.5},"value":-8},"labelPadding":15}},
   "color":{"field":"s","type":"nominal","scale":{"domain":["br","cn","ar","ind","idn","tr"],"range":["#ffc20e","#d0173a","#111111","#a5a5a5","#3d6cc0","#e88a80"]},
     "legend":{"orient":"none","legendX":57,"legendY":212,"columns":2,"direction":"horizontal","columnPadding":33,"labelExpr":"datum.label=='br'?'巴西':datum.label=='cn'?'中国':datum.label=='ar'?'阿根廷':datum.label=='ind'?'印度':datum.label=='idn'?'印尼':'土耳其'"}}
  }},
  {"data":{"values":[{"r":0}]},"mark":{"type":"rule","color":"#111","strokeWidth":1},
   "encoding":{"y":{"field":"r","type":"quantitative","scale":{"domain":[-40,50],"nice":false,"zero":false},
     "axis":{"orient":"right","title":null,"labels":false,"values":[-40,-35,-30,-25,-20,-15,-10,-5,0,5,10,15,20,25,30,35,40,45,50],"tickSize":{"condition":{"test":"datum.value % 10 != 0","value":-3.5},"value":-8}}}}}
 ]
},
{
 "width":242,"height":284,
 "title":{"text":"6. 商品价格指数","dx":12,"offset":24},
 "resolve":{"axis":{"y":"independent"}},
 "layer":[
  {"data":{"values":[
{"t":2010.00,"oil":105,"metal":104,"grain":102.1,"raw":106.3,"gold":104.2},
{"t":2010.05,"oil":100,"metal":100,"grain":100,"raw":102.1,"gold":100},
{"t":2010.10,"oil":102,"metal":95.8,"grain":97.9,"raw":108.4,"gold":102.1},
{"t":2010.15,"oil":107,"metal":106.3,"grain":95.8,"raw":112.6,"gold":104.2},
{"t":2010.20,"oil":108.4,"metal":110.5,"grain":95.8,"raw":116.8,"gold":108.4},
{"t":2010.25,"oil":110.5,"metal":104,"grain":91.6,"raw":125.3,"gold":110.5},
{"t":2010.30,"oil":112.6,"metal":95.8,"grain":93.7,"raw":129.5,"gold":112.6},
{"t":2010.35,"oil":100,"metal":91.6,"grain":95.8,"raw":118.9,"gold":114.7},
{"t":2010.40,"oil":91.6,"metal":87.4,"grain":97.9,"raw":125.3,"gold":112.6},
{"t":2010.45,"oil":95.8,"metal":85.3,"grain":97.9,"raw":116.8,"gold":114.7},
{"t":2010.50,"oil":97,"metal":89.5,"grain":100,"raw":112.6,"gold":112.6},
{"t":2010.55,"oil":100,"metal":87.4,"grain":104.2,"raw":114.7,"gold":108.4},
{"t":2010.60,"oil":102,"metal":95.8,"grain":106.3,"raw":112.6,"gold":112.6},
{"t":2010.65,"oil":93.7,"metal":100,"grain":110.5,"raw":118.9,"gold":114.7},
{"t":2010.70,"oil":100,"metal":102.1,"grain":112.6,"raw":133.7,"gold":116.8},
{"t":2010.75,"oil":106,"metal":104.2,"grain":114.7,"raw":146.3,"gold":121},
{"t":2010.80,"oil":112.6,"metal":110.5,"grain":116.8,"raw":158.9,"gold":125.3},
{"t":2010.85,"oil":114.7,"metal":114.7,"grain":121,"raw":175.8,"gold":127.4},
{"t":2010.90,"oil":116.8,"metal":112.6,"grain":123.2,"raw":180,"gold":125.3},
{"t":2010.95,"oil":118.9,"metal":118.9,"grain":125.3,"raw":167.4,"gold":127.4},
{"t":2011.00,"oil":121,"metal":118.9,"grain":127.4,"raw":188.4,"gold":125.3},
{"t":2011.05,"oil":123.2,"metal":123.2,"grain":129.5,"raw":198.9,"gold":127.4},
{"t":2011.10,"oil":123.2,"metal":123.2,"grain":135.8,"raw":209.5,"gold":123.2},
{"t":2011.15,"oil":125.3,"metal":125.3,"grain":137.9,"raw":234.7,"gold":129.5},
{"t":2011.18,"oil":128,"metal":126,"grain":135,"raw":255.8,"gold":130.5},
{"t":2011.20,"oil":131.6,"metal":127.4,"grain":131.6,"raw":243.2,"gold":131.6},
{"t":2011.22,"oil":134,"metal":125,"grain":131.6,"raw":232.6,"gold":131.6},
{"t":2011.25,"oil":135.8,"metal":123.2,"grain":131.6,"raw":249.5,"gold":131.6},
{"t":2011.27,"oil":140,"metal":126,"grain":132,"raw":213.7,"gold":132.5},
{"t":2011.30,"oil":146.3,"metal":127.4,"grain":133.7,"raw":243.2,"gold":133.7},
{"t":2011.32,"oil":149,"metal":128.5,"grain":131,"raw":249.5,"gold":134.5},
{"t":2011.35,"oil":150.5,"metal":129.5,"grain":129.5,"raw":230.5,"gold":135.8},
{"t":2011.40,"oil":142.1,"metal":121,"grain":133.7,"raw":196.8,"gold":137.9},
{"t":2011.45,"oil":140,"metal":116.8,"grain":135.8,"raw":192.6,"gold":137.9},
{"t":2011.50,"oil":137.9,"metal":116.8,"grain":131.6,"raw":188.4,"gold":142.1},
{"t":2011.55,"oil":133.7,"metal":118.9,"grain":133.7,"raw":171.6,"gold":140},
{"t":2011.60,"oil":135.8,"metal":123.2,"grain":135.8,"raw":177.9,"gold":146.3},
{"t":2011.65,"oil":133.7,"metal":114.7,"grain":133.7,"raw":171.6,"gold":154.7},
{"t":2011.70,"oil":137.9,"metal":112.6,"grain":131.6,"raw":161.1,"gold":169.5},
{"t":2011.72,"oil":134,"metal":108,"grain":133,"raw":158,"gold":173.7},
{"t":2011.75,"oil":129.5,"metal":104.2,"grain":135.8,"raw":154.7,"gold":167.4},
{"t":2011.80,"oil":135.8,"metal":93.7,"grain":129.5,"raw":146.3,"gold":150.5},
{"t":2011.85,"oil":125.3,"metal":95.8,"grain":125.3,"raw":137.9,"gold":154.7},
{"t":2011.90,"oil":129.5,"metal":97.9,"grain":127.4,"raw":129.5,"gold":158.9},
{"t":2011.95,"oil":135.8,"metal":93.7,"grain":125.3,"raw":121,"gold":154.7},
{"t":2012.00,"oil":133.7,"metal":97.9,"grain":118.9,"raw":116.8,"gold":161.1},
{"t":2012.05,"oil":137.9,"metal":102.1,"grain":116.8,"raw":123.2,"gold":152.6},
{"t":2012.10,"oil":133.7,"metal":106.3,"grain":121,"raw":133.7,"gold":146.3},
{"t":2012.15,"oil":137.9,"metal":108.4,"grain":121,"raw":133.7,"gold":157},
{"t":2012.20,"oil":146.3,"metal":106.3,"grain":123.2,"raw":129.5,"gold":161.1},
{"t":2012.25,"oil":150.5,"metal":106.3,"grain":123.2,"raw":131.6,"gold":158.9},
{"t":2012.30,"oil":148.4,"metal":104.2,"grain":125.3,"raw":131.6,"gold":154.7},
{"t":2012.35,"oil":146.3,"metal":102.1,"grain":127.4,"raw":129.5,"gold":152.6},
{"t":2012.40,"oil":144.2,"metal":102.1,"grain":125.3,"raw":127.4,"gold":150.5},
{"t":2012.45,"oil":140,"metal":97.9,"grain":123.2,"raw":125.3,"gold":148.4},
{"t":2012.50,"oil":129.5,"metal":95.8,"grain":121,"raw":116.8,"gold":144.2},
{"t":2012.53,"oil":120,"metal":94,"grain":125,"raw":106.3,"gold":146},
{"t":2012.55,"oil":112.6,"metal":92.6,"grain":129.5,"raw":108.4,"gold":148.4},
{"t":2012.61,"oil":116.8,"metal":93.7,"grain":140,"raw":108.4,"gold":146.3}
  ]},
  "transform":[{"fold":["raw","oil","metal","grain","gold"],"as":["s","v"]}],
  "mark":{"type":"line","strokeWidth":2,"clip":true},
  "encoding":{
   "x":{"field":"t","type":"quantitative","scale":{"domain":[2010,2012.61],"nice":false,"zero":false},
     "axis":{"title":null,"values":[2010.23,2010.5,2011,2011.23,2011.5,2012,2012.5,2012.61],
       "labelExpr":"datum.value==2010.23?'2010:H1':datum.value==2011.23?'11:H1':datum.value==2012.61?['Jul.','12']:''",
       "tickOpacity":{"condition":{"test":"datum.value==2010.23||datum.value==2011.23||datum.value==2012.61","value":0},"value":1},
       "labelAlign":{"condition":{"test":"datum.value==2012.61","value":"right"},"value":"center"}}},
   "y":{"field":"v","type":"quantitative","scale":{"domain":[80,260],"nice":false,"zero":false},
     "axis":{"orient":"left","title":null,"labels":false,"values":[80,90,100,110,120,130,140,150,160,170,180,190,200,210,220,230,240,250,260],"tickSize":{"condition":{"test":"datum.value % 20 != 0","value":-3.5},"value":-8}}},
   "color":{"field":"s","type":"nominal","scale":{"domain":["oil","metal","grain","raw","gold"],"range":["#a5a5a5","#0a7bc4","#c8102e","#ffbb33","#111111"]},
     "legend":{"orient":"none","legendX":17,"legendY":-2,"labelExpr":"datum.label=='oil'?'原油 (APSP)':datum.label=='metal'?'金属':datum.label=='grain'?'粮食':datum.label=='raw'?'原材料':'黄金'"}}
  }},
  {"data":{"values":[{"r":100}]},"mark":{"type":"rule","color":"#888","strokeWidth":1.5},
   "encoding":{"y":{"field":"r","type":"quantitative","scale":{"domain":[80,260],"nice":false,"zero":false},
     "axis":{"orient":"right","title":null,"values":[80,90,100,110,120,130,140,150,160,170,180,190,200,210,220,230,240,250,260],"labelExpr":"datum.value % 20 == 0 ? datum.label : ''","tickSize":{"condition":{"test":"datum.value % 20 != 0","value":-3.5},"value":-8},"labelPadding":15}}}}
 ]
}
],"spacing":39,"resolve":{"scale":{"color":"independent"},"legend":{"color":"independent"}}}
]
}
